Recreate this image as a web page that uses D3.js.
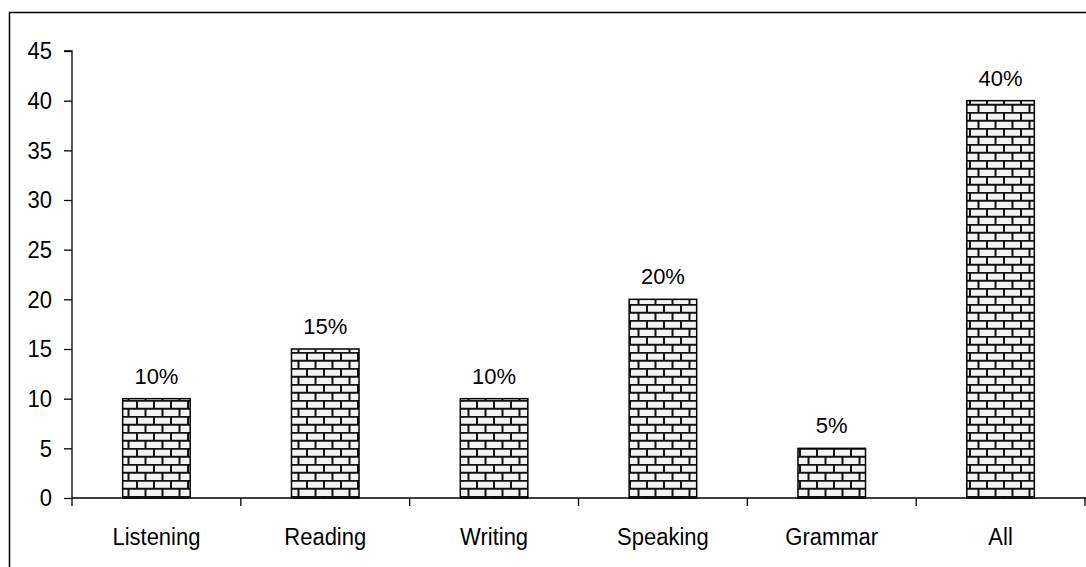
<!DOCTYPE html>
<html>
<head>
<meta charset="utf-8">
<script src="https://cdn.jsdelivr.net/npm/d3@7"></script>
<style>
  body { margin: 0; background: #fff; }
  text { font-family: "Liberation Sans", Arial, sans-serif; }
</style>
</head>
<body>
<svg id="chart"></svg>
<script>
// chart data
const skills = ["Listening", "Reading", "Writing", "Speaking", "Grammar", "All"]
const percents = [10, 15, 10, 20, 5, 40]
const yTicks = [0, 5, 10, 15, 20, 25, 30, 35, 40, 45]

const dims = { width: 1086, height: 567, left: 72, right: 1085, top: 51, bottom: 498 }
const FONT = 22

const svg = d3.select("#chart")
  .attr("width", dims.width)
  .attr("height", dims.height)

// brick fill
const defs = svg.append("defs")
const pat = defs.append("pattern")
  .attr("id", "bricks")
  .attr("patternUnits", "userSpaceOnUse")
  .attr("width", 17).attr("height", 16)
pat.append("rect").attr("width", 17).attr("height", 16).attr("fill", "#f4f4f4")
pat.append("path")
  .attr("d", "M0,0.75H17M0,8.75H17M1,0V8.75M9.5,8.75V16")
  .attr("stroke", "#111").attr("stroke-width", 2).attr("fill", "none")

// outer frame
svg.append("path")
  .attr("d", `M9.5,${dims.height}V12.5H${dims.width}`)
  .attr("fill", "none").attr("stroke", "#000").attr("stroke-width", 1.5)

const x = d3.scaleBand().domain(skills).range([dims.left, dims.right]).paddingInner(0.6).paddingOuter(0.3)
const y = d3.scaleLinear().domain([0, 45]).range([dims.bottom, dims.top])

// y axis
const yAxis = d3.axisLeft(y).tickValues(yTicks).tickSize(8).tickPadding(12)
const yG = svg.append("g").attr("transform", `translate(${dims.left},0)`).call(yAxis)
yG.select(".domain").attr("d", `M-8,${y(45)}H0V${y(0)}`)

// x axis with ticks between categories
const step = x.step()
const xG = svg.append("g").attr("transform", `translate(0,${dims.bottom})`)
xG.append("line").attr("x1", dims.left).attr("x2", dims.width).attr("stroke", "#000")
xG.selectAll(".sep").data(d3.range(skills.length + 1)).join("line")
  .attr("x1", i => dims.left + i * step).attr("x2", i => dims.left + i * step)
  .attr("y1", 0).attr("y2", 8).attr("stroke", "#000")
xG.selectAll(".cat").data(skills).join("text")
  .attr("transform", d => `translate(${x(d) + x.bandwidth() / 2},47) scale(1,1.12)`)
  .attr("text-anchor", "middle").attr("font-size", FONT).attr("fill", "#000")
  .text(d => d)

yG.attr("font-size", FONT).attr("font-family", null)
yG.selectAll("text").attr("fill", "#000").attr("transform", "scale(1,1.12)")
yG.selectAll("line, path").attr("stroke", "#000").attr("stroke-width", 1.3)
xG.selectAll("line").attr("stroke-width", 1.3)

// bars
svg.append("g").selectAll("rect").data(percents).join("rect")
  .attr("x", (d, i) => x(skills[i]))
  .attr("width", x.bandwidth())
  .attr("y", d => y(d))
  .attr("height", d => y(0) - y(d))
  .attr("fill", "url(#bricks)")
  .attr("stroke", "#000").attr("stroke-width", 1.5)

svg.append("g").selectAll("text").data(percents).join("text")
  .attr("x", (d, i) => x(skills[i]) + x.bandwidth() / 2)
  .attr("y", d => y(d) - 15)
  .attr("text-anchor", "middle").attr("font-size", FONT)
  .text(d => d + "%")
</script>
</body>
</html>
